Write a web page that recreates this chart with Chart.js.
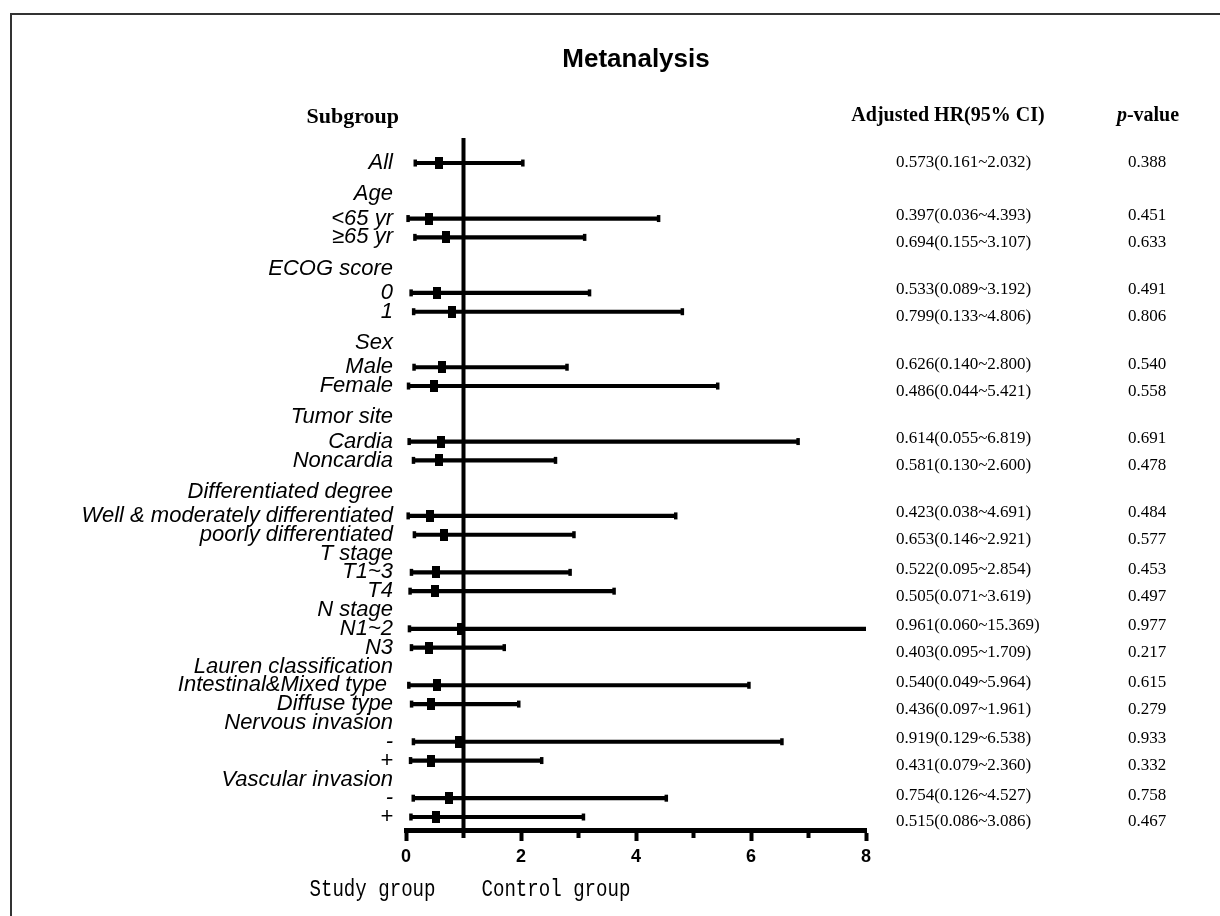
<!DOCTYPE html>
<html>
<head>
<meta charset="utf-8">
<title>Metanalysis</title>
<script src="https://cdn.jsdelivr.net/npm/chart.js@4.4.1/dist/chart.umd.min.js"></script>
<style>
    html, body { margin: 0; padding: 0; background: #fff; }
    #wrap { position: relative; width: 1220px; height: 916px; }
</style>
</head>
<body>
<div id="wrap"><canvas id="forest" width="1220" height="916"></canvas></div>
<script>
// ---- data (top to bottom, header rows have no estimate) ----
const subgroups = [
    'All',
    'Age', '<65 yr', '≥65 yr',
    'ECOG score', '0', '1',
    'Sex', 'Male', 'Female',
    'Tumor site', 'Cardia', 'Noncardia',
    'Differentiated degree', 'Well & moderately differentiated', 'poorly differentiated',
    'T stage', 'T1~3', 'T4',
    'N stage', 'N1~2', 'N3',
    'Lauren classification', 'Intestinal&Mixed type ', 'Diffuse type',
    'Nervous invasion', '-', '+',
    'Vascular invasion', '-', '+'
];
const hr = [0.573, null, 0.397, 0.694, null, 0.533, 0.799, null, 0.626, 0.486, null, 0.614, 0.581,
    null, 0.423, 0.653, null, 0.522, 0.505, null, 0.961, 0.403, null, 0.540, 0.436,
    null, 0.919, 0.431, null, 0.754, 0.515];
const ciLow = [0.161, null, 0.036, 0.155, null, 0.089, 0.133, null, 0.140, 0.044, null, 0.055, 0.130,
    null, 0.038, 0.146, null, 0.095, 0.071, null, 0.060, 0.095, null, 0.049, 0.097,
    null, 0.129, 0.079, null, 0.126, 0.086];
const ciHigh = [2.032, null, 4.393, 3.107, null, 3.192, 4.806, null, 2.800, 5.421, null, 6.819, 2.600,
    null, 4.691, 2.921, null, 2.854, 3.619, null, 15.369, 1.709, null, 5.964, 1.961,
    null, 6.538, 2.360, null, 4.527, 3.086];
const pValues = ['0.388', '', '0.451', '0.633', '', '0.491', '0.806', '', '0.540', '0.558', '', '0.691', '0.478',
    '', '0.484', '0.577', '', '0.453', '0.497', '', '0.977', '0.217', '', '0.615', '0.279',
    '', '0.933', '0.332', '', '0.758', '0.467'];
const xTicks = [0, 2, 4, 6, 8];

// ---- row layout: the first groups are spaced looser than the rest ----
const looseHeaders = 5;
let pos = -1, headerCount = 0, loose = false;
const rowPos = subgroups.map((s, i) => {
    pos += 1;
    if (hr[i] === null) {
        headerCount++;
        loose = headerCount <= looseHeaders;
        if (loose) pos += 0.65;
    } else if (i > 0 && hr[i - 1] === null && loose) {
        pos += 0.3;
    }
    return pos;
});
const yMin = -1.33;
const yMax = rowPos[rowPos.length - 1] + 0.69;

const dataRows = subgroups.map((s, i) => i).filter(i => hr[i] !== null);

// tall black box used as the estimate marker
const box = document.createElement('canvas');
box.width = 8; box.height = 12;
box.getContext('2d').fillRect(0, 0, 8, 12);

// ---- texts drawn around the plot ----
const sideText = {
    id: 'sideText',
    afterDraw(chart) {
        const ctx = chart.ctx;
        const y = chart.scales.y;
        const x = chart.scales.x;
        ctx.save();
        ctx.fillStyle = '#000';
        ctx.textBaseline = 'middle';

        // frame (top and left only)
        ctx.strokeStyle = '#333';
        ctx.lineWidth = 2;
        ctx.beginPath();
        ctx.moveTo(11, 916); ctx.lineTo(11, 14); ctx.lineTo(1220, 14);
        ctx.stroke();

        // column headers
        ctx.font = "bold 22px 'Liberation Serif'";
        ctx.textAlign = 'right';
        ctx.fillText('Subgroup', 399, 117);
        ctx.font = "bold 20px 'Liberation Serif'";
        ctx.textAlign = 'center';
        ctx.fillText('Adjusted HR(95% CI)', 948, 116);
        ctx.textAlign = 'left';
        const pw = ctx.measureText('-value').width;
        ctx.font = "italic bold 20px 'Liberation Serif'";
        const pp = ctx.measureText('p').width;
        const px0 = 1148 - (pw + pp) / 2;
        ctx.fillText('p', px0, 116);
        ctx.font = "bold 20px 'Liberation Serif'";
        ctx.fillText('-value', px0 + pp, 116);

        // HR (95% CI) and p-value columns
        ctx.font = "17px 'Liberation Serif'";
        dataRows.forEach(i => {
            let shift = 0;
            if (i > 0) shift = hr[i - 1] === null ? -3 : 5;
            const ty = y.getPixelForValue(rowPos[i]) + shift;
            const txt = hr[i].toFixed(3) + '(' + ciLow[i].toFixed(3) + '~' + ciHigh[i].toFixed(3) + ')';
            ctx.textAlign = 'left';
            ctx.fillText(txt, 896, ty);
            ctx.textAlign = 'center';
            ctx.fillText(pValues[i], 1147, ty);
        });

        // group captions under the axis
        const ref = x.getPixelForValue(1);
        const by = chart.chartArea.bottom + 60;
        ctx.font = "23px 'Liberation Mono'";
        ctx.save();
        ctx.translate(ref - 28, by);
        ctx.scale(0.83, 1);
        ctx.textAlign = 'right';
        ctx.fillText('Study group', 0, 0);
        ctx.restore();
        ctx.save();
        ctx.translate(ref + 18, by);
        ctx.scale(0.83, 1);
        ctx.textAlign = 'left';
        ctx.fillText('Control group', 0, 0);
        ctx.restore();

        ctx.restore();
    }
};

new Chart(document.getElementById('forest'), {
    type: 'bar',
    data: {
        datasets: [
            {
                type: 'bar',
                indexAxis: 'y',
                data: dataRows.map(i => ({ x: [ciLow[i], ciHigh[i]], y: rowPos[i] })),
                backgroundColor: '#000',
                borderWidth: 0,
                barThickness: 3.5,
                clip: 0,
                order: 2
            },
            {
                type: 'scatter',
                data: dataRows.flatMap(i => [{ x: ciLow[i], y: rowPos[i] }, { x: ciHigh[i], y: rowPos[i] }]),
                pointStyle: 'line',
                rotation: 90,
                radius: 3.5,
                borderWidth: 3.5,
                borderColor: '#000',
                order: 1
            },
            {
                type: 'scatter',
                data: dataRows.map(i => ({ x: hr[i], y: rowPos[i] })),
                pointStyle: box,
                radius: 6,
                order: 0
            },
            {
                type: 'line',
                data: [{ x: 1, y: yMin }, { x: 1, y: yMax }],
                borderColor: '#000',
                borderWidth: 4,
                pointRadius: 0,
                order: 3
            }
        ]
    },
    options: {
        responsive: false,
        animation: false,
        devicePixelRatio: 1,
        layout: { padding: { left: 46, right: 354, top: 0, bottom: 36 } },
        scales: {
            x: {
                type: 'linear',
                position: 'bottom',
                offset: false,
                min: 0,
                max: 8,
                afterBuildTicks: scale => {
                    const t = [];
                    for (let v = 0; v <= 8; v++) t.push({ value: v });
                    scale.ticks = t;
                },
                afterFit: scale => {
                    scale.height = 50;
                    scale.paddingLeft = 0;
                    scale.paddingRight = 0;
                },
                grid: {
                    offset: false,
                    drawOnChartArea: false,
                    tickLength: 11,
                    tickWidth: 4,
                    tickColor: '#000',
                    tickBorderDash: ctx => (ctx.tick && !xTicks.includes(ctx.tick.value) ? [5, 30] : [])
                },
                border: { display: true, color: '#000', width: 5 },
                ticks: {
                    autoSkip: false,
                    maxRotation: 0,
                    padding: 5,
                    color: '#000',
                    font: { family: "'Liberation Sans'", size: 18, weight: 'bold' },
                    callback: v => (xTicks.includes(v) ? v : '')
                }
            },
            y: {
                type: 'linear',
                position: 'left',
                offset: false,
                reverse: true,
                min: yMin,
                max: yMax,
                afterBuildTicks: scale => {
                    scale.ticks = rowPos.map(v => ({ value: v }));
                },
                afterFit: scale => {
                    scale.width = 360;
                    scale.paddingTop = 0;
                    scale.paddingBottom = 0;
                },
                grid: { display: false, drawTicks: false },
                border: { display: false },
                ticks: {
                    autoSkip: false,
                    padding: 13,
                    color: '#000',
                    font: { family: "'Liberation Sans'", size: 22, style: 'italic' },
                    callback: (v, i) => subgroups[i]
                }
            }
        },
        plugins: {
            legend: { display: false },
            tooltip: { enabled: false },
            title: {
                display: true,
                text: 'Metanalysis',
                fullSize: false,
                color: '#000',
                font: { family: "'Liberation Sans'", size: 26, weight: 'bold' },
                padding: { top: 44, bottom: 62.8 }
            }
        }
    },
    plugins: [sideText]
});
</script>
</body>
</html>
